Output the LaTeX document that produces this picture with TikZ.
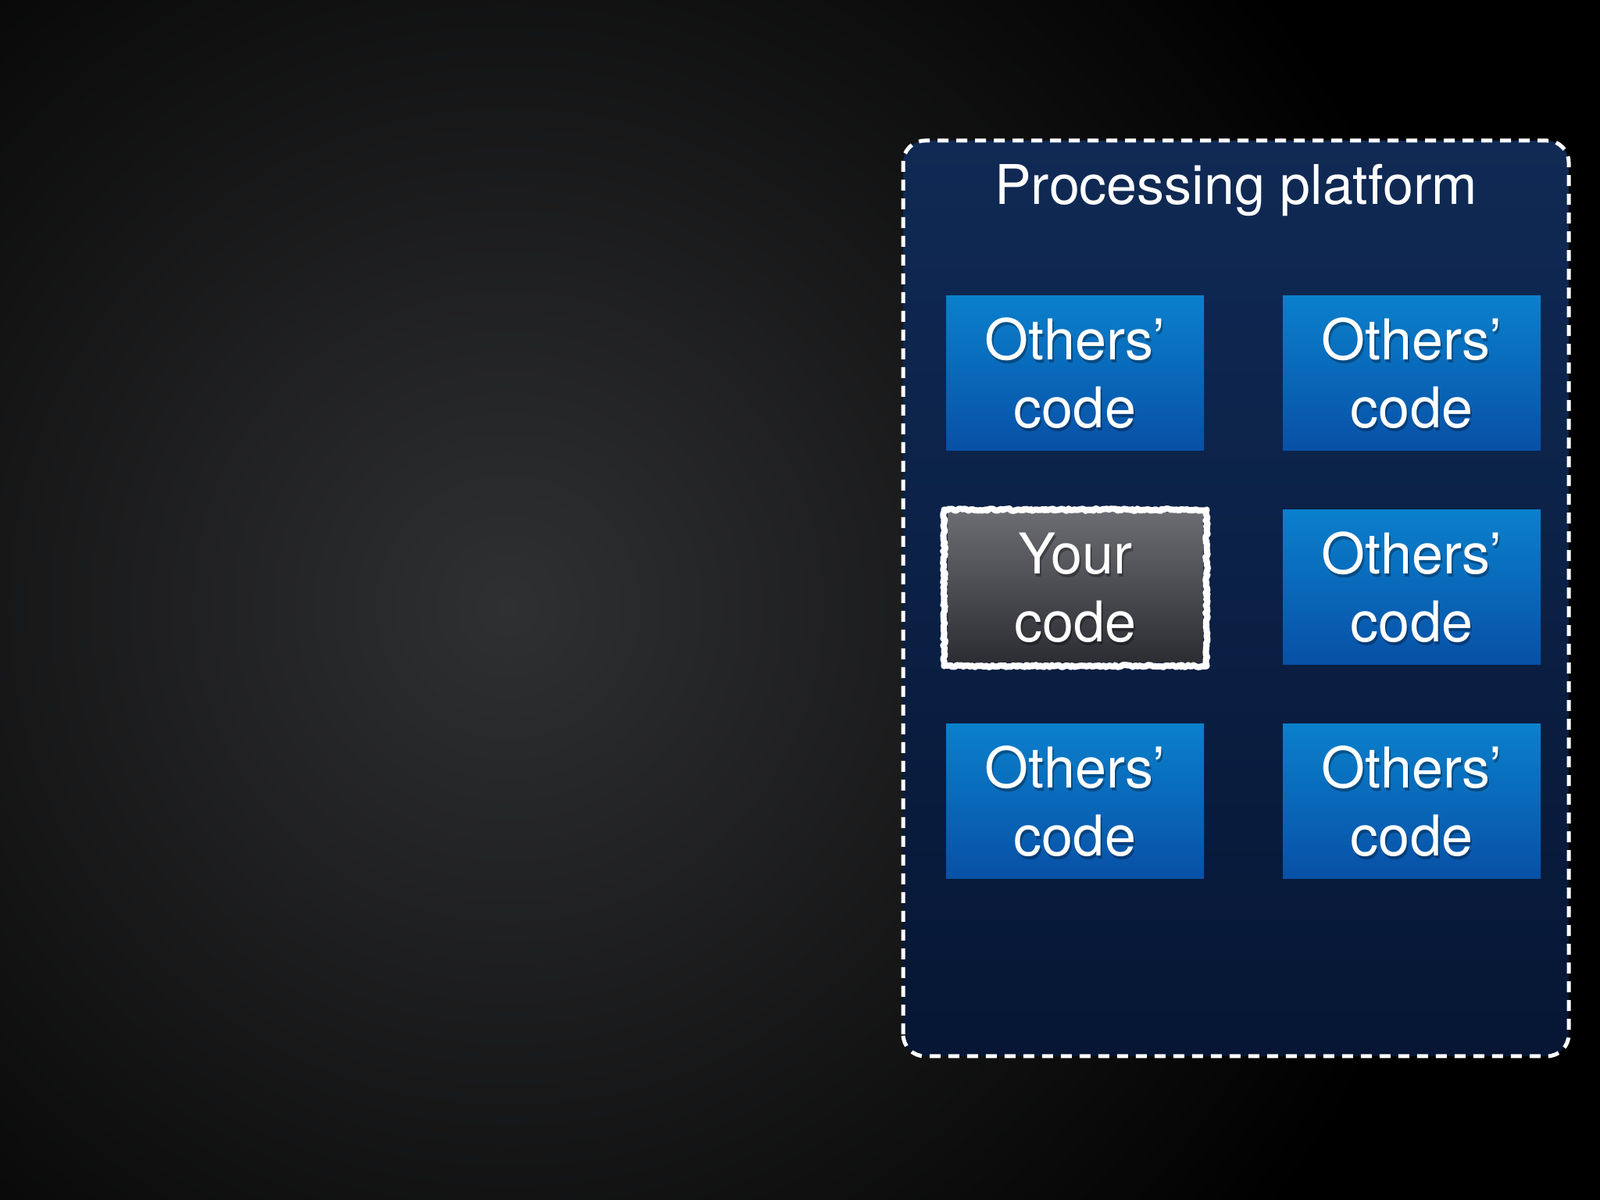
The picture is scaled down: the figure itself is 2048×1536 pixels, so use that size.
\documentclass[tikz,border=0pt]{standalone}
\usepackage{fontspec}
\setmainfont{TeX Gyre Heros}
\usetikzlibrary{decorations.pathmorphing,shadings}
\definecolor{bgcenter}{HTML}{2F3032}
\definecolor{platTop}{HTML}{102A55}
\definecolor{platBot}{HTML}{061634}
\definecolor{boxTop}{HTML}{0A80CC}
\definecolor{boxBot}{HTML}{0850A6}
\definecolor{ycTop}{HTML}{6B6C72}
\definecolor{ycBot}{HTML}{2C2D32}
\tikzset{
  codebox/.style={rectangle, minimum width=330pt, minimum height=198pt,
    top color=boxTop, bottom color=boxBot, inner sep=0pt},
  yourbox/.style={rectangle, minimum width=327pt, minimum height=191pt,
    top color=ycTop, bottom color=ycBot, inner sep=0pt},
  boxtext/.style={text=white, align=center, font=\fontsize{72}{87}\selectfont},
  shadowtext/.style={text=black, opacity=0.3, align=center, font=\fontsize{72}{87}\selectfont},
  platform/.style={draw=white, line width=5pt, dash pattern=on 14pt off 10pt,
    rounded corners=28pt, top color=platTop, bottom color=platBot},
  chalk/.style={draw=white, line width=8pt, line join=round, line cap=round, decorate,
    decoration={random steps, segment length=2.5pt, amplitude=1.4pt}},
}
\begin{document}
\begin{tikzpicture}[x=1pt,y=1pt]
\useasboundingbox (0,0) rectangle (2048,1536);
% background
\fill[black] (0,0) rectangle (2048,1536);
\shade[inner color=bgcenter, outer color=black] (650,760) circle (1250);
% platform
\path[platform] (1156,184) rectangle (2008,1356);
\node[text=white, font=\fontsize{70}{84}\selectfont, anchor=base] (title) at (1582,1274) {Processing platform};
% boxes
\node[codebox] (o1) at (1376,1058) {};
\node[codebox] (o2) at (1807,1058) {};
\node[yourbox] (yc) at (1376.5,783.5) {};
\node[codebox] (o3) at (1807,784) {};
\node[codebox] (o4) at (1376,510) {};
\node[codebox] (o5) at (1807,510) {};
\draw[chalk] (1208.5,683.5) -- (1544.5,683.5);
\draw[chalk] (1544.5,683.5) -- (1544.5,883.5);
\draw[chalk] (1544.5,883.5) -- (1208.5,883.5);
\draw[chalk] (1208.5,883.5) -- (1208.5,683.5);
\draw[white, line width=3pt, opacity=0.6] (1208.5,683.5) rectangle (1544.5,883.5);
% texts
\foreach \n/\t in {o1/{Others’\\code}, o2/{Others’\\code}, o3/{Others’\\code}, o4/{Others’\\code}, o5/{Others’\\code}, yc/{Your\\code}}{
  \node[shadowtext] at ([shift={(2,-4)}]\n.center) {\t};
  \node[boxtext] (\n t) at (\n.center) {\t};
}
\end{tikzpicture}
\end{document}
